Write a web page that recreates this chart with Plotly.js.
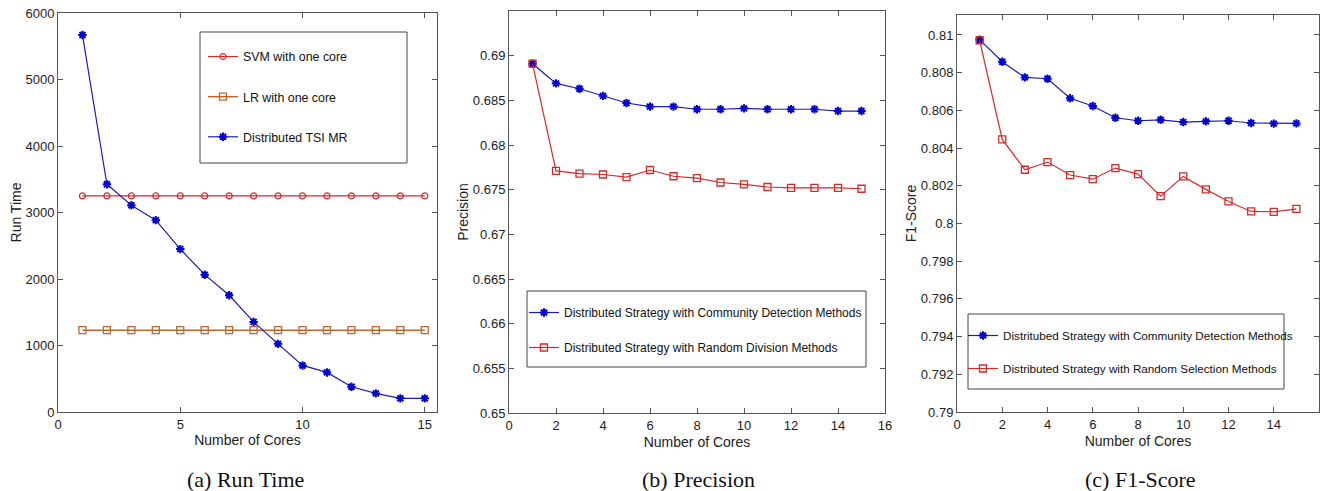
<!DOCTYPE html>
<html>
<head>
<meta charset="utf-8">
<script src="https://cdn.plot.ly/plotly-3.0.1.min.js"></script>
<style>html,body{margin:0;padding:0;background:#fff;}#chart{width:1321px;height:491px;}</style>
</head>
<body>
<div id="chart"></div>
<script>
// ---- data ----
var cores = [1, 2, 3, 4, 5, 6, 7, 8, 9, 10, 11, 12, 13, 14, 15];

// (a) Run Time
var svmOneCore = [3250, 3250, 3250, 3250, 3250, 3250, 3250, 3250, 3250, 3250, 3250, 3250, 3250, 3250, 3250];
var lrOneCore = [1230, 1230, 1230, 1230, 1230, 1230, 1230, 1230, 1230, 1230, 1230, 1230, 1230, 1230, 1230];
var distributedTsiMr = [5670, 3425, 3110, 2885, 2450, 2065, 1755, 1355, 1025, 700, 595, 380, 280, 205, 205];

// (b) Precision
var precCommunity = [0.6891, 0.6869, 0.6863, 0.6855, 0.6847, 0.6843, 0.6843, 0.6840, 0.6840, 0.6841, 0.6840, 0.6840, 0.6840, 0.6838, 0.6838];
var precRandom = [0.6891, 0.6771, 0.6768, 0.6767, 0.6764, 0.6772, 0.6765, 0.6763, 0.6758, 0.6756, 0.6753, 0.6752, 0.6752, 0.6752, 0.6751];

// (c) F1-Score
var f1Community = [0.80975, 0.80858, 0.80775, 0.80768, 0.80664, 0.80623, 0.80561, 0.80545, 0.80550, 0.80538, 0.80542, 0.80545, 0.80533, 0.80530, 0.80531];
var f1Random = [0.80972, 0.80446, 0.80285, 0.80326, 0.80257, 0.80235, 0.80294, 0.80262, 0.80145, 0.80250, 0.80181, 0.80117, 0.80064, 0.80062, 0.80078];

// tick labels
var xTicksA = [0, 5, 10, 15];
var xTicksBC = [0, 2, 4, 6, 8, 10, 12, 14, 16];
var xTicksC = [0, 2, 4, 6, 8, 10, 12, 14];
var yTicksA = [0, 1000, 2000, 3000, 4000, 5000, 6000];
var yTicksB = [0.65, 0.655, 0.66, 0.665, 0.67, 0.675, 0.68, 0.685, 0.69];
var yTickTextB = ['0.65', '0.655', '0.66', '0.665', '0.67', '0.675', '0.68', '0.685', '0.69'];
var yTicksC = [0.79, 0.792, 0.794, 0.796, 0.798, 0.8, 0.802, 0.804, 0.806, 0.808, 0.81];
var yTickTextC = ['0.79', '0.792', '0.794', '0.796', '0.798', '0.8', '0.802', '0.804', '0.806', '0.808', '0.81'];

var labelsA = ['SVM with one core', 'LR with one core', 'Distributed TSI MR'];
var labelsB = ['Distributed Strategy with Community Detection Methods', 'Distributed Strategy with Random Division Methods'];
var labelsC = ['Distritubed Strategy with Community Detection Methods', 'Distributed Strategy with Random Selection Methods'];
var captions = ['(a) Run Time', '(b) Precision', '(c) F1-Score'];

// ---- styles ----
var BLUE = '#1c1cb4', RED = '#d42a2a', BROWN = '#c0652e';
var W = 1321, H = 491;
function px(x) { return x / W; }
function py(y) { return (H - y) / H; }
var font = 'Liberation Sans, Arial, sans-serif';

function axisBase(extra) {
  var a = {
    showline: true, linecolor: '#555', linewidth: 1, mirror: 'ticks',
    ticks: 'inside', ticklen: 5, tickcolor: '#555', showgrid: false, zeroline: false,
    tickfont: {family: font, size: 13, color: '#222'},
    fixedrange: true
  };
  for (var k in extra) a[k] = extra[k];
  return a;
}

var blueMarker = {symbol: 'asterisk-open', size: 7, color: '#0000d0', line: {width: 2, color: '#0000d0'}};

var traces = [
  {x: cores, y: svmOneCore, name: labelsA[0], xaxis: 'x', yaxis: 'y', legend: 'legend', legendgroup: 'a1',
   mode: 'lines+markers', line: {color: RED, width: 1.2}, marker: {symbol: 'circle-open', size: 6, color: RED, line: {width: 1.2}}},
  {x: cores, y: lrOneCore, name: labelsA[1], xaxis: 'x', yaxis: 'y', legend: 'legend', legendgroup: 'a2',
   mode: 'lines+markers', line: {color: BROWN, width: 1.5}, marker: {symbol: 'square-open', size: 7, color: BROWN, line: {width: 1.3}}},
  {x: cores, y: distributedTsiMr, name: labelsA[2], xaxis: 'x', yaxis: 'y', legend: 'legend', legendgroup: 'a3',
   mode: 'lines+markers', line: {color: BLUE, width: 1.2}, marker: blueMarker},

  {x: cores, y: precCommunity, name: labelsB[0], xaxis: 'x2', yaxis: 'y2', legend: 'legend2', legendgroup: 'b1',
   mode: 'lines+markers', line: {color: BLUE, width: 1.2}, marker: blueMarker},
  {x: cores, y: precRandom, name: labelsB[1], xaxis: 'x2', yaxis: 'y2', legend: 'legend2', legendgroup: 'b2',
   mode: 'lines+markers', line: {color: RED, width: 1.2}, marker: {symbol: 'square-open', size: 7, color: RED, line: {width: 1.3}}},

  {x: cores, y: f1Community, name: labelsC[0], xaxis: 'x3', yaxis: 'y3', legend: 'legend3', legendgroup: 'c1',
   mode: 'lines+markers', line: {color: BLUE, width: 1.2}, marker: blueMarker},
  {x: cores, y: f1Random, name: labelsC[1], xaxis: 'x3', yaxis: 'y3', legend: 'legend3', legendgroup: 'c2',
   mode: 'lines+markers', line: {color: RED, width: 1.2}, marker: {symbol: 'square-open', size: 7, color: RED, line: {width: 1.3}}}
];

var titleFont = {family: font, size: 14, color: '#222'};
var legendFontA = {family: font, size: 12.4, color: '#111'};
var legendFontB = {family: font, size: 12, color: '#111'};
var legendFontC = {family: font, size: 11.7, color: '#111'};
var capFont = {family: 'Liberation Serif, Times New Roman, serif', size: 22, color: '#111'};

var layout = {
  width: W, height: H, autosize: false,
  margin: {l: 0, r: 0, t: 0, b: 0, pad: 0},
  paper_bgcolor: '#fff', plot_bgcolor: '#fff',
  showlegend: true,
  xaxis: axisBase({domain: [px(58), px(437)], range: [0, 15.5], tickvals: xTicksA, anchor: 'y',
    title: {text: 'Number of Cores', font: titleFont, standoff: 4}}),
  yaxis: axisBase({domain: [py(412), py(13)], range: [0, 6000], tickvals: yTicksA, anchor: 'x',
    title: {text: 'Run Time', font: titleFont, standoff: 0}}),
  xaxis2: axisBase({domain: [px(509), px(885)], range: [0, 16], tickvals: xTicksBC, anchor: 'y2',
    title: {text: 'Number of Cores', font: titleFont, standoff: 5}}),
  yaxis2: axisBase({domain: [py(413), py(11)], range: [0.65, 0.695], tickvals: yTicksB, ticktext: yTickTextB, anchor: 'x2',
    title: {text: 'Precision', font: titleFont, standoff: 0}}),
  xaxis3: axisBase({domain: [px(957), px(1319)], range: [0, 16], tickvals: xTicksC, anchor: 'y3',
    title: {text: 'Number of Cores', font: titleFont, standoff: 5}}),
  yaxis3: axisBase({domain: [py(412), py(15)], range: [0.79, 0.81106], tickvals: yTicksC, ticktext: yTickTextC, anchor: 'x3',
    title: {text: 'F1-Score', font: titleFont, standoff: 0}}),
  legend: {x: px(203), y: py(42), xanchor: 'left', yanchor: 'top', bgcolor: 'rgba(0,0,0,0)', borderwidth: 0,
    font: legendFontA, traceorder: 'grouped', tracegroupgap: 21},
  legend2: {x: px(524), y: py(298), xanchor: 'left', yanchor: 'top', bgcolor: 'rgba(0,0,0,0)', borderwidth: 0,
    font: legendFontB, traceorder: 'grouped', tracegroupgap: 16},
  legend3: {x: px(963), y: py(321), xanchor: 'left', yanchor: 'top', bgcolor: 'rgba(0,0,0,0)', borderwidth: 0,
    font: legendFontC, traceorder: 'grouped', tracegroupgap: 14},
  shapes: [
    {type: 'rect', xref: 'paper', yref: 'paper', x0: px(200), x1: px(407), y0: py(163), y1: py(32), line: {color: '#444', width: 1}},
    {type: 'rect', xref: 'paper', yref: 'paper', x0: px(527), x1: px(866), y0: py(367), y1: py(291), line: {color: '#444', width: 1}},
    {type: 'rect', xref: 'paper', yref: 'paper', x0: px(968), x1: px(1284), y0: py(389), y1: py(314), line: {color: '#444', width: 1}}
  ],
  annotations: [
    {text: captions[0], xref: 'paper', yref: 'paper', x: px(245), y: py(479), xanchor: 'center', yanchor: 'middle', showarrow: false, font: capFont},
    {text: captions[1], xref: 'paper', yref: 'paper', x: px(699), y: py(479), xanchor: 'center', yanchor: 'middle', showarrow: false, font: capFont},
    {text: captions[2], xref: 'paper', yref: 'paper', x: px(1140), y: py(479), xanchor: 'center', yanchor: 'middle', showarrow: false, font: capFont}
  ]
};

Plotly.newPlot('chart', traces, layout, {displayModeBar: false, staticPlot: true});
</script>
</body>
</html>
